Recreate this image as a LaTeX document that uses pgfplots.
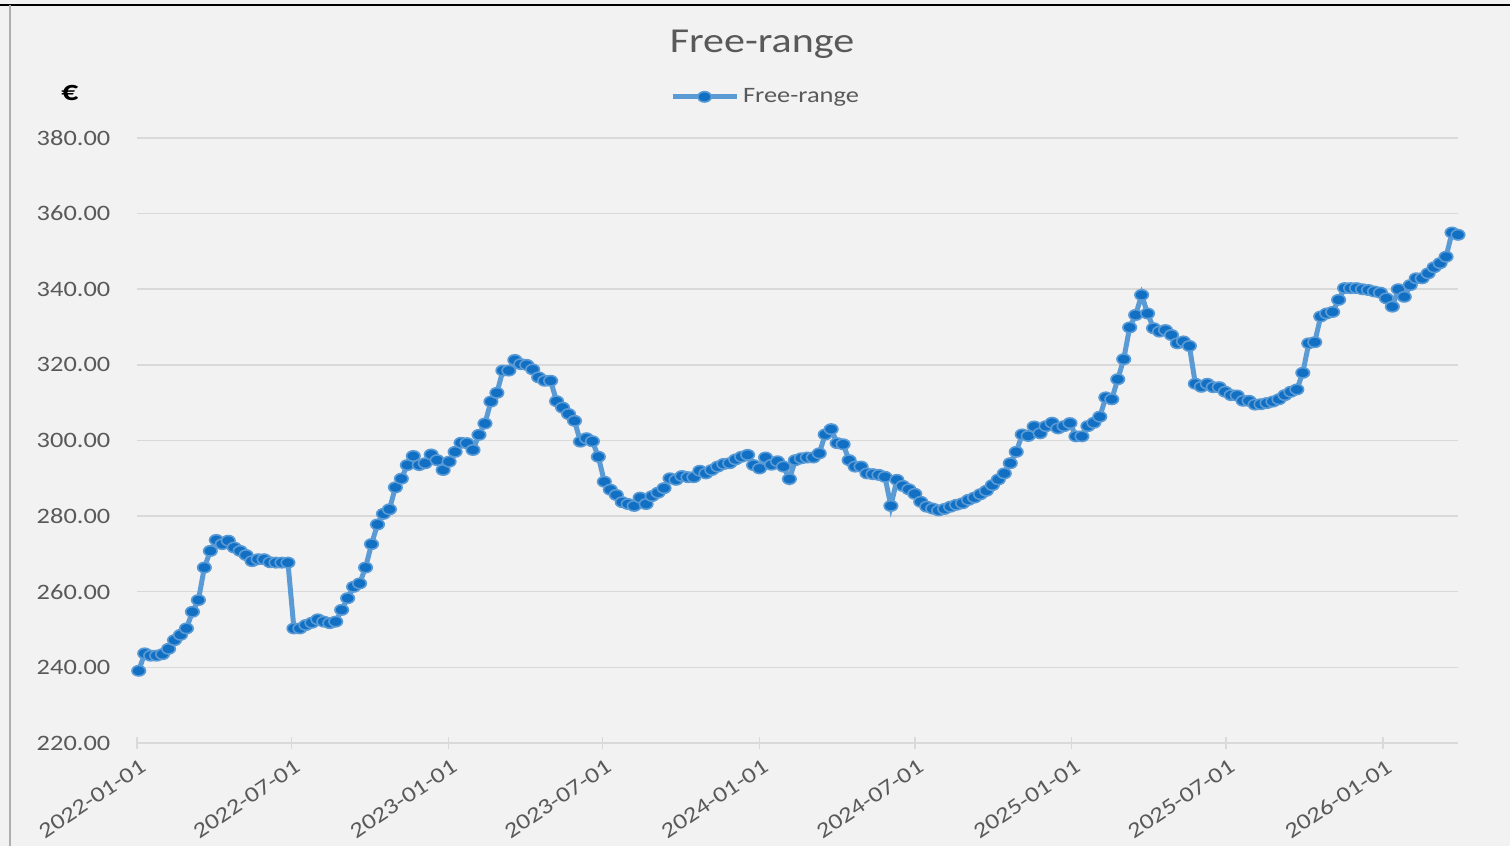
\documentclass[border=0pt]{standalone}
\usepackage{pgfplots}
\pgfplotsset{compat=1.18}
\usepackage{fontspec}
\setmainfont{Carlito}
\usepackage{graphicx}
\definecolor{bg}{HTML}{F2F2F2}
\definecolor{gridc}{HTML}{D9D9D9}
\definecolor{txt}{HTML}{595959}
\definecolor{serline}{HTML}{5B9BD5}
\definecolor{serfill}{HTML}{1170C4}
% the source picture is a bit wider than tall, so text is stretched to match
\newcommand\sx[1]{\scalebox{1.2}[1]{#1}}

\begin{document}
\begin{tikzpicture}
\fill[bg] (0,0) rectangle (755pt,423pt);
\draw[black, line width=1.2pt] (0,420.5pt) -- (755pt,420.5pt);
\draw[gridc!80!black, line width=0.6pt] (5pt,0) -- (5pt,420.5pt);

\node[text=txt] at (381pt,401pt) {\fontsize{17.5}{20}\selectfont\sx{Free-range}};
\node at (35pt,376.5pt) {\fontsize{14}{16}\selectfont\sx{\textbf{€}}};

% x = days since 2022-01-01, weekly prices
\begin{axis}[
  at={(68.5pt,51.5pt)}, anchor=south west,
  scale only axis, width=660.5pt, height=302.5pt,
  xmin=0, xmax=1549, ymin=220, ymax=380,
  axis x line*=bottom, axis y line*=left,
  x axis line style={gridc, line width=0.75pt},
  y axis line style={draw=none},
  ytick={220,240,...,380},
  yticklabels={\sx{220.00},\sx{240.00},\sx{260.00},\sx{280.00},\sx{300.00},
               \sx{320.00},\sx{340.00},\sx{360.00},\sx{380.00}},
  ytick style={draw=none},
  ymajorgrids, grid style={gridc, line width=0.75pt},
  xtick={0,181,365,546,730,912,1096,1277,1461},
  xticklabels={\sx{2022-01-01},\sx{2022-07-01},\sx{2023-01-01},\sx{2023-07-01},
               \sx{2024-01-01},\sx{2024-07-01},\sx{2025-01-01},\sx{2025-07-01},
               \sx{2026-01-01}},
  xtick style={gridc, line width=0.75pt},
  tick align=center, major tick length=6.3pt,
  yticklabel style={font=\fontsize{11}{13}\selectfont, text=txt, inner sep=0pt,
                    anchor=east, xshift=-10pt},
  xticklabel style={font=\fontsize{11}{13}\selectfont, text=txt, inner sep=0pt,
                    anchor=east, rotate=34, xshift=-1.5pt, yshift=-8pt},
  legend style={at={(0.4765,1.068)}, anchor=center, draw=none, fill=none,
                font=\fontsize{11}{13}\selectfont, text=txt},
  legend image code/.code={\draw[mark repeat=2, mark phase=2, #1]
      plot coordinates {(0pt,0pt) (16pt,0pt) (32pt,0pt)};},
  clip=false,
]
\addplot[serline, line width=2.5pt, mark=*, mark size=2.6pt,
  mark options={fill=serfill, draw=serline, line width=0.8pt, xscale=1.3}]
coordinates {
(2,239.1) (9,243.7) (16,243.1) (23,243.1) (30,243.5) (37,244.9) (44,247.2) (51,248.6) (58,250.3) (65,254.7)
(72,257.8) (79,266.4) (86,270.8) (93,273.7) (100,272.6) (107,273.5) (114,271.7) (121,270.8) (128,269.7) (135,268.1)
(142,268.6) (149,268.6) (156,267.8) (163,267.7) (170,267.7) (177,267.7) (184,250.3) (191,250.3) (198,251.2) (205,251.8)
(212,252.7) (219,252.1) (226,251.7) (233,252.1) (240,255.2) (247,258.3) (254,261.3) (261,262.2) (268,266.4) (275,272.6)
(282,277.8) (289,280.6) (296,281.8) (303,287.6) (310,289.9) (317,293.5) (324,295.9) (331,293.5) (338,294.0) (345,296.3)
(352,294.8) (359,292.2) (366,294.4) (373,297.0) (380,299.4) (387,299.3) (394,297.5) (401,301.5) (408,304.5) (415,310.3)
(422,312.6) (429,318.5) (436,318.5) (443,321.3) (450,320.2) (457,320.0) (464,318.8) (471,316.7) (478,315.8) (485,315.8)
(492,310.4) (499,308.7) (506,307.0) (513,305.2) (520,299.7) (527,300.6) (534,299.8) (541,295.7) (548,289.1) (555,287.0)
(562,285.6) (569,283.7) (576,283.2) (583,282.7) (590,284.9) (597,283.2) (604,285.3) (611,286.2) (618,287.4) (625,290.0)
(632,289.6) (639,290.6) (646,290.3) (653,290.3) (660,292.0) (667,291.3) (674,292.2) (681,293.1) (688,293.8) (695,294.0)
(702,295.0) (709,295.7) (716,296.2) (723,293.5) (730,292.6) (737,295.5) (744,293.6) (751,294.5) (758,293.1) (765,289.8)
(772,294.8) (779,295.3) (786,295.5) (793,295.5) (800,296.6) (807,301.6) (814,303.0) (821,299.3) (828,299.0) (835,294.8)
(842,293.1) (849,293.1) (856,291.3) (863,291.1) (870,290.9) (877,290.4) (884,282.7) (891,289.6) (898,288.0) (905,287.1)
(912,285.9) (919,283.8) (926,282.5) (933,282.0) (940,281.5) (947,281.9) (954,282.5) (961,283.0) (968,283.4) (975,284.3)
(982,284.9) (989,285.8) (996,286.7) (1003,288.2) (1010,289.7) (1017,291.3) (1024,294.0) (1031,297.0) (1038,301.6) (1045,301.2)
(1052,303.7) (1059,301.9) (1066,303.8) (1073,304.7) (1080,303.2) (1087,303.8) (1094,304.6) (1101,301.1) (1108,301.1) (1115,303.8)
(1122,304.7) (1129,306.3) (1136,311.4) (1143,310.9) (1150,316.2) (1157,321.5) (1164,329.9) (1171,333.2) (1178,338.5) (1185,333.6)
(1192,329.7) (1199,328.8) (1206,329.2) (1213,327.9) (1220,325.7) (1227,326.2) (1234,325.0) (1241,315.0) (1248,314.2) (1255,315.0)
(1262,314.1) (1269,314.1) (1276,312.9) (1283,312.0) (1290,311.9) (1297,310.5) (1304,310.5) (1311,309.5) (1318,309.6) (1325,309.9)
(1332,310.3) (1339,310.9) (1346,312.0) (1353,312.9) (1360,313.5) (1367,317.9) (1374,325.7) (1381,326.0) (1388,332.8) (1395,333.6)
(1402,334.0) (1409,337.2) (1416,340.3) (1423,340.3) (1430,340.3) (1437,340.0) (1444,339.8) (1451,339.4) (1458,339.1) (1465,337.6)
(1472,335.4) (1479,340.0) (1486,338.0) (1493,341.1) (1500,342.9) (1507,342.9) (1514,344.2) (1521,345.8) (1528,346.9) (1535,348.6)
(1542,355.0) (1549,354.4)
};
\addlegendentry{\sx{Free-range}}
\end{axis}
\pgfresetboundingbox
\useasboundingbox (0,0) rectangle (755pt,423pt);
\end{tikzpicture}
\end{document}
